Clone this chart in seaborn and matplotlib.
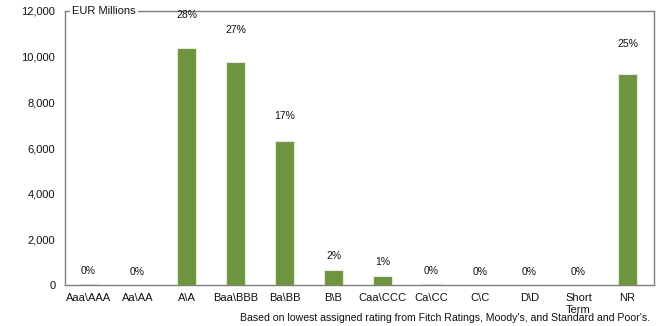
import numpy as np
import pandas as pd
import matplotlib
matplotlib.use("Agg")
import matplotlib.pyplot as plt
import seaborn as sns

# ratings and exposure (EUR millions)
ratings = ['Aaa\\AAA', 'Aa\\AA', 'A\\A', 'Baa\\BBB', 'Ba\\BB', 'B\\B', 'Caa\\CCC',
           'Ca\\CC', 'C\\C', 'D\\D', 'Short\nTerm', 'NR']
exposure = [60, 10, 10400, 9760, 6300, 650, 400, 40, 10, 0, 0, 9230]
shares = ['0%', '0%', '28%', '27%', '17%', '2%', '1%', '0%', '0%', '0%', '0%', '25%']
y_ticks = [0, 2000, 4000, 6000, 8000, 10000, 12000]

df = pd.DataFrame({'rating': ratings, 'exposure': exposure})

sns.set_style('white')
plt.rcParams['font.family'] = ['Liberation Sans', 'DejaVu Sans']

fig = plt.figure(figsize=(6.59, 3.26), dpi=100)
ax = fig.add_axes([65 / 659, 41 / 326, 589 / 659, 274 / 326])

bar_green = '#6f9440'
sns.barplot(data=df, x='rating', y='exposure', color=bar_green, width=0.4,
            edgecolor='#e3ecd5', linewidth=0.8, ax=ax, saturation=1)

ax.set_xlim(-0.48, 11.54)
ax.set_ylim(0, 12000)
ax.set_yticks(y_ticks)
ax.set_yticklabels(['{:,}'.format(v) for v in y_ticks])
ax.set_xlabel('')
ax.set_ylabel('')
ax.tick_params(axis='both', length=0, labelsize=8, colors='#111111')
ax.tick_params(axis='y', pad=7)
ax.tick_params(axis='x', pad=6)

for side in ['left', 'right', 'top', 'bottom']:
    ax.spines[side].set_color('#7f7f7f')
    ax.spines[side].set_linewidth(1.0)

# share labels above each bar
for i, (v, s) in enumerate(zip(exposure, shares)):
    ax.text(i, v + 560 + 0.085 * v, s, ha='center', va='center',
            fontsize=7.5, color='#111111', clip_on=False)

ax.text(0.012, 1.0, 'EUR Millions', transform=ax.transAxes, ha='left', va='center',
        fontsize=8, color='#111111',
        bbox=dict(facecolor='white', edgecolor='none', pad=1.5))

fig.text(650 / 659, 8 / 326, "Based on lowest assigned rating from Fitch Ratings, Moody's, and Standard and Poor's.",
         ha='right', va='center', fontsize=7.6, color='#111111')

fig.savefig('out.png', dpi=100)
